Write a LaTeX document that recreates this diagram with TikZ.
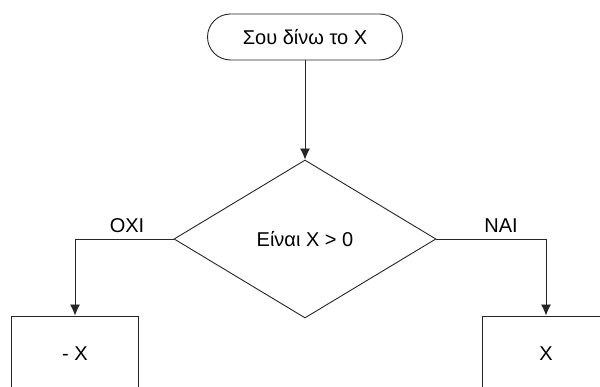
\documentclass[tikz,border=0pt]{standalone}
\usepackage{fontspec}
\setmainfont{Liberation Sans}
\usetikzlibrary{shapes.geometric,arrows.meta}
\tikzset{>={Latex[length=11pt,width=10pt]}}
\tikzset{
	line/.style={draw=black!85,line width=0.9pt},
	termbox/.style={line,rounded corners=23pt,minimum width=195pt,minimum height=46pt,inner sep=0pt},
	decbox/.style={line,diamond,minimum width=262pt,minimum height=158pt,inner sep=0pt},
	procbox/.style={line,rectangle,minimum width=127pt,minimum height=76pt,inner sep=0pt}
}

\begin{document}
\begin{tikzpicture}[x=1pt,y=-1pt,font=\fontsize{20}{24}\selectfont]
	\useasboundingbox (0,0) rectangle (600,387);
	\clip (0,0) rectangle (600,387);

	\node[termbox] (start) at (305,37) {Σου δίνω το X};
	\node[decbox] (test) at (305,239) {Είναι X > 0};
	\node[procbox] (neg) at (75,354) {- X};
	\node[procbox] (pos) at (546,354) {X};

	% kladoi
	\draw[line][->] (start) -- (test);
	\draw[line][->] (test.west) -| (neg.north);
	\draw[line][->] (test.east) -| (pos.north);

	\node (no) at (127,226) {OXI};
	\node (yes) at (501,226) {NAI};
\end{tikzpicture}
\end{document}
